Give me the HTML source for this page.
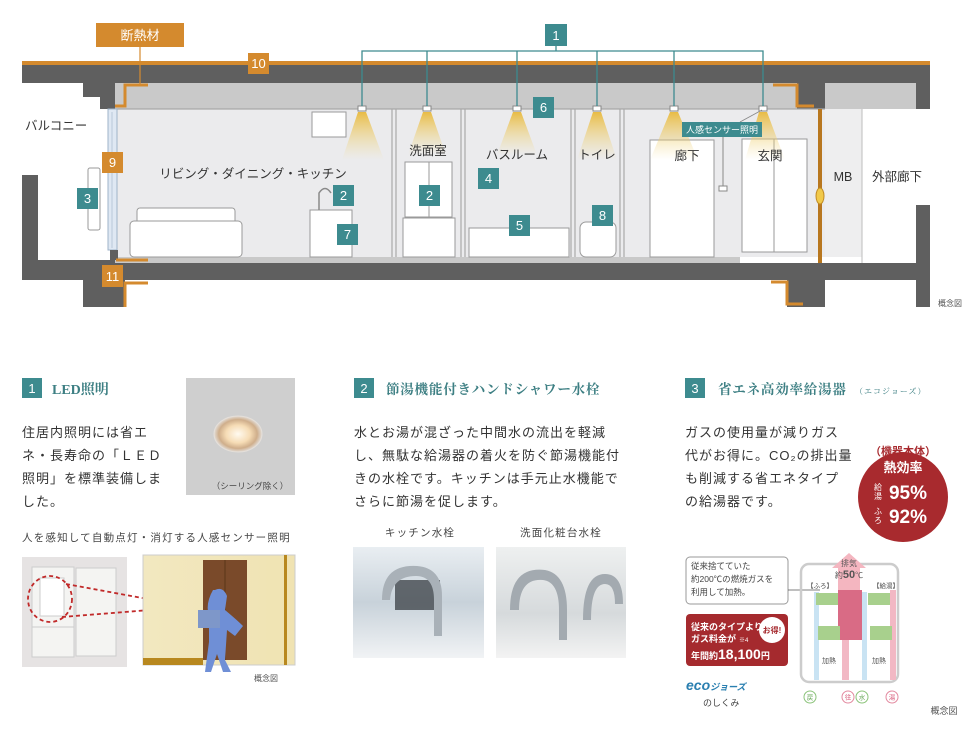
<!DOCTYPE html>
<html><head><meta charset="utf-8"><style>
html,body{margin:0;padding:0;background:#fff;}
svg{display:block;font-family:"Liberation Sans","Noto Sans CJK JP",sans-serif;}
.s{font-family:"Liberation Serif","Noto Serif CJK SC",serif;}
</style></head><body>
<svg width="980" height="735" viewBox="0 0 980 735" xmlns="http://www.w3.org/2000/svg">
<defs>
<linearGradient id="cone" x1="0" y1="0" x2="0" y2="1"><stop offset="0" stop-color="#e8b93c" stop-opacity="0.95"/><stop offset="1" stop-color="#f3dc8f" stop-opacity="0"/></linearGradient>
<radialGradient id="led" cx="0.5" cy="0.5" r="0.5"><stop offset="0" stop-color="#fffaf0"/><stop offset="0.5" stop-color="#f6dcb5"/><stop offset="0.8" stop-color="#cfae8b"/><stop offset="1" stop-color="#e2dcd6"/></radialGradient>
<linearGradient id="room" x1="0" y1="0" x2="1" y2="0"><stop offset="0" stop-color="#f2e8c0"/><stop offset="1" stop-color="#f0e3b2"/></linearGradient>
<linearGradient id="ph1" x1="0" y1="0" x2="0" y2="1"><stop offset="0" stop-color="#e9eef2"/><stop offset="0.5" stop-color="#c8d2da"/><stop offset="1" stop-color="#f1f3f5"/></linearGradient>
<linearGradient id="ph2" x1="0" y1="0" x2="0" y2="1"><stop offset="0" stop-color="#eef0f0"/><stop offset="0.6" stop-color="#d6dadc"/><stop offset="1" stop-color="#f3f3f3"/></linearGradient>
</defs>

<rect x="115" y="109" width="710" height="148" fill="#ebebed"/>
<rect x="825" y="109" width="37" height="148" fill="#eeeeef"/>
<line x1="862" y1="109" x2="862" y2="263" stroke="#bdbdbd"/>
<rect x="22" y="61" width="908" height="4" fill="#d48a2e"/>
<rect x="22" y="65" width="908" height="18" fill="#5f5f5f"/>
<rect x="115" y="83" width="685" height="26" fill="#c9c9c9"/>
<rect x="825" y="83" width="91" height="26" fill="#c9c9c9"/>
<polygon points="83,83 115,83 115,109 100,109 100,97 83,97" fill="#5f5f5f"/>
<rect x="797" y="83" width="28" height="26" fill="#5f5f5f"/>
<rect x="916" y="83" width="14" height="26" fill="#5f5f5f"/>
<polyline points="148,85 125,85 125,106 115,106" fill="none" stroke="#d48a2e" stroke-width="3"/>
<polyline points="773,85 797,85 797,106 814,106" fill="none" stroke="#d48a2e" stroke-width="3"/>
<line x1="140" y1="46" x2="140" y2="84" stroke="#d48a2e" stroke-width="1.2"/>
<g stroke="#a9a9a9" stroke-width="1.2" fill="none">
<line x1="115" y1="109" x2="825" y2="109"/>
<line x1="392" y1="109" x2="392" y2="257"/><line x1="396" y1="109" x2="396" y2="257"/>
<line x1="461" y1="109" x2="461" y2="257"/><line x1="465" y1="109" x2="465" y2="257"/>
<line x1="571" y1="109" x2="571" y2="257"/><line x1="575" y1="109" x2="575" y2="257"/>
<line x1="620" y1="109" x2="620" y2="257"/><line x1="624" y1="109" x2="624" y2="257"/>
</g>
<rect x="108" y="109" width="9" height="141" fill="#dfe8f3" stroke="#9fb3c8"/>
<line x1="112" y1="112" x2="112" y2="248" stroke="#b9c9da"/>
<rect x="115" y="257" width="625" height="6" fill="#c9c9c9"/>
<rect x="22" y="260" width="93" height="20" fill="#5f5f5f"/>
<rect x="115" y="263" width="815" height="17" fill="#5f5f5f"/>
<rect x="22" y="175" width="16" height="105" fill="#5f5f5f"/>
<rect x="83" y="280" width="42" height="27" fill="#5f5f5f"/>
<rect x="787" y="280" width="38" height="27" fill="#5f5f5f"/>
<rect x="916" y="205" width="14" height="102" fill="#5f5f5f"/>
<rect x="110" y="250" width="8" height="10" fill="#5f5f5f"/>
<polyline points="148,283 125,283 125,307" fill="none" stroke="#d48a2e" stroke-width="3"/>
<polyline points="116,260 148,260" fill="none" stroke="#d48a2e" stroke-width="3"/>
<polyline points="771,282 787,282 787,304 803,304" fill="none" stroke="#d48a2e" stroke-width="3"/>
<rect x="818" y="109" width="4" height="154" fill="#b8771f"/>
<ellipse cx="820" cy="196" rx="4" ry="8" fill="#f1c94a" stroke="#c08a22"/>
<g fill="#fff" stroke="#9a9a9a" stroke-width="1">
<rect x="137" y="208" width="98" height="23" rx="3"/>
<rect x="130" y="221" width="112" height="36" rx="4"/>
<rect x="310" y="210" width="42" height="47"/>
<rect x="312" y="112" width="34" height="25"/>
<rect x="405" y="162" width="47" height="55"/>
<rect x="403" y="218" width="52" height="39"/>
<rect x="469" y="228" width="100" height="29"/>
<rect x="650" y="140" width="64" height="117"/>
<rect x="742" y="139" width="65" height="113"/>
<rect x="580" y="222" width="36" height="35" rx="6"/>
<rect x="88" y="168" width="12" height="62" rx="2"/>
</g>
<line x1="429" y1="162" x2="429" y2="217" stroke="#9a9a9a"/>
<line x1="774" y1="139" x2="774" y2="252" stroke="#9a9a9a"/>
<path d="M319 210 V193 Q325 184 331 193" fill="none" stroke="#8a8a8a" stroke-width="1.5"/>
<g fill="url(#cone)">
<polygon points="358,112 366,112 384,160 342,160"/>
<polygon points="423,112 431,112 446,155 408,155"/>
<polygon points="513,112 521,112 537,155 497,155"/>
<polygon points="593,112 601,112 617,160 577,160"/>
<polygon points="670,112 678,112 698,160 650,160"/>
<polygon points="759,112 767,112 785,160 745,160"/>
</g>
<g fill="#fff" stroke="#888">
<rect x="358" y="106" width="8" height="5"/><rect x="423" y="106" width="8" height="5"/><rect x="513" y="106" width="8" height="5"/><rect x="593" y="106" width="8" height="5"/><rect x="670" y="106" width="8" height="5"/><rect x="759" y="106" width="8" height="5"/>
</g>
<g stroke="#3d8b8f" stroke-width="1.3" fill="none">
<polyline points="362,106 362,51 763,51 763,106"/>
<line x1="427" y1="51" x2="427" y2="106"/><line x1="517" y1="51" x2="517" y2="106"/><line x1="597" y1="51" x2="597" y2="106"/><line x1="674" y1="51" x2="674" y2="106"/><line x1="556" y1="46" x2="556" y2="51"/>
</g>
<line x1="723" y1="137" x2="723" y2="186" stroke="#888"/>
<rect x="719" y="186" width="8" height="5" fill="#fff" stroke="#888"/>
<line x1="740" y1="122" x2="762" y2="110" stroke="#888" stroke-width="0.8"/>
<rect x="682" y="122" width="80" height="15" fill="#3d8b8f"/>
<text x="722" y="133" font-size="9" fill="#fff" text-anchor="middle">人感センサー照明</text>

<rect x="96" y="23" width="88" height="24" fill="#d48a2e"/>
<text x="140" y="40" font-size="13" fill="#fff" text-anchor="middle">断熱材</text>
<g font-size="13" fill="#fff" text-anchor="middle">
<rect x="248" y="53" width="21" height="21" fill="#d48a2e"/><text x="258.5" y="68">10</text>
<rect x="102" y="152" width="21" height="21" fill="#d48a2e"/><text x="112.5" y="167">9</text>
<rect x="102" y="265" width="21" height="22" fill="#d48a2e"/><text x="112.5" y="281">11</text>
</g>
<g font-size="13" fill="#fff" text-anchor="middle">
<rect x="545" y="24" width="22" height="22" fill="#3d8b8f"/><text x="556" y="40">1</text>
<rect x="533" y="97" width="21" height="21" fill="#3d8b8f"/><text x="543.5" y="112">6</text>
<rect x="333" y="185" width="21" height="21" fill="#3d8b8f"/><text x="343.5" y="200">2</text>
<rect x="419" y="185" width="21" height="21" fill="#3d8b8f"/><text x="429.5" y="200">2</text>
<rect x="77" y="188" width="21" height="21" fill="#3d8b8f"/><text x="87.5" y="203">3</text>
<rect x="478" y="168" width="21" height="21" fill="#3d8b8f"/><text x="488.5" y="183">4</text>
<rect x="509" y="215" width="21" height="21" fill="#3d8b8f"/><text x="519.5" y="230">5</text>
<rect x="337" y="224" width="21" height="21" fill="#3d8b8f"/><text x="347.5" y="239">7</text>
<rect x="592" y="205" width="21" height="21" fill="#3d8b8f"/><text x="602.5" y="220">8</text>
</g>
<g font-size="12.5" fill="#333">
<text x="25" y="130">バルコニー</text>
<text x="253" y="178" text-anchor="middle">リビング・ダイニング・キッチン</text>
<text x="428" y="155" text-anchor="middle">洗面室</text>
<text x="517" y="159" text-anchor="middle">バスルーム</text>
<text x="597" y="159" text-anchor="middle">トイレ</text>
<text x="687" y="160" text-anchor="middle">廊下</text>
<text x="770" y="160" text-anchor="middle">玄関</text>
<text x="843" y="181" text-anchor="middle">MB</text>
<text x="897" y="181" text-anchor="middle">外部廊下</text>
</g>
<text x="950" y="306" font-size="8" fill="#555" text-anchor="middle">概念図</text>

<rect x="22" y="378" width="20" height="20" fill="#3d8b8f"/>
<text x="32" y="393" font-size="13" fill="#fff" text-anchor="middle">1</text>
<text x="52" y="394" class="s" font-size="14" font-weight="bold" fill="#3d7f83">LED照明</text>
<g font-size="13" fill="#333" letter-spacing="1">
<text x="22" y="437">住居内照明には省エ</text>
<text x="22" y="460">ネ・長寿命の「ＬＥＤ</text>
<text x="22" y="483">照明」を標準装備しま</text>
<text x="22" y="506">した。</text>
</g>
<rect x="186" y="378" width="109" height="117" fill="#cfcfcf"/>
<ellipse cx="238" cy="434" rx="24" ry="18" fill="url(#led)" stroke="#e4dfda"/>
<text x="250" y="489" font-size="8.5" fill="#444" text-anchor="middle">（シーリング除く）</text>
<text x="22" y="541" font-size="10.5" fill="#444" letter-spacing="1.2">人を感知して自動点灯・消灯する人感センサー照明</text>
<rect x="22" y="557" width="105" height="110" fill="#e6e3e3"/>
<rect x="32" y="567" width="42" height="60" fill="#f4f4f2" stroke="#ccc"/>
<rect x="76" y="568" width="40" height="88" fill="#f4f4f2" stroke="#ccc"/>
<rect x="32" y="627" width="42" height="30" fill="#f4f4f2" stroke="#ccc"/>
<rect x="40" y="578" width="24" height="38" fill="#fff" stroke="#ccc"/>
<ellipse cx="50" cy="599" rx="22" ry="23" fill="none" stroke="#c12a2a" stroke-width="1.8" stroke-dasharray="4,3"/>
<line x1="66" y1="584" x2="175" y2="604" stroke="#c12a2a" stroke-width="1.8" stroke-dasharray="4,3"/>
<line x1="62" y1="617" x2="175" y2="608" stroke="#c12a2a" stroke-width="1.8" stroke-dasharray="4,3"/>
<rect x="143" y="555" width="152" height="110" fill="url(#room)" stroke="#ccc"/>
<rect x="203" y="560" width="44" height="100" fill="#7a4a2a"/>
<line x1="225" y1="560" x2="225" y2="660" stroke="#5b3518"/>
<rect x="143" y="658" width="60" height="7" fill="#b8881f"/>
<rect x="284" y="555" width="3" height="110" fill="#b8881f"/>
<path d="M215 590 q8 -4 12 6 l-2 14 q12 10 18 16 l-8 10 l-8 -6 l-2 30 l6 12 h-8 l-6 -18 l-6 18 h-6 l4 -30 v-26 q-4 -12 4 -26z" fill="#6f8fd6"/>
<rect x="198" y="610" width="22" height="18" fill="#7e97c9"/>
<text x="266" y="681" font-size="8" fill="#555" text-anchor="middle">概念図</text>

<rect x="354" y="378" width="20" height="20" fill="#3d8b8f"/>
<text x="364" y="393" font-size="13" fill="#fff" text-anchor="middle">2</text>
<text x="386" y="394" class="s" font-size="13.5" font-weight="bold" fill="#3d7f83" letter-spacing="0.8">節湯機能付きハンドシャワー水栓</text>
<g font-size="13" fill="#333" letter-spacing="1">
<text x="354" y="437">水とお湯が混ざった中間水の流出を軽減</text>
<text x="354" y="460">し、無駄な給湯器の着火を防ぐ節湯機能付</text>
<text x="354" y="483">きの水栓です。キッチンは手元止水機能で</text>
<text x="354" y="506">さらに節湯を促します。</text>
</g>
<g font-size="10.5" fill="#444" text-anchor="middle" letter-spacing="1.2">
<text x="420" y="536">キッチン水栓</text>
<text x="561" y="536">洗面化粧台水栓</text>
</g>
<rect x="353" y="547" width="131" height="111" fill="url(#ph1)"/>
<rect x="395" y="580" width="45" height="30" fill="#3a3f44" opacity="0.75"/>
<path d="M382 600 q0 -36 35 -34 q25 2 25 30 v40 h-8 v-36 q0 -24 -18 -24 q-24 0 -26 24z" fill="#a9b1b8"/>
<rect x="496" y="547" width="130" height="111" fill="url(#ph2)"/>
<path d="M510 610 q0 -44 35 -40 q22 4 22 40 v30 h-8 v-30 q0 -28 -16 -30 q-24 -2 -24 30z" fill="#a3aab0"/>
<path d="M583 620 q0 -46 22 -46 q18 0 18 30 h-8 q0 -20 -10 -20 q-14 0 -14 36z" fill="#a3aab0"/>

<rect x="685" y="378" width="20" height="20" fill="#3d8b8f"/>
<text x="695" y="393" font-size="13" fill="#fff" text-anchor="middle">3</text>
<text x="718" y="394" class="s" font-size="13.5" font-weight="bold" fill="#3d7f83" letter-spacing="0.8">省エネ高効率給湯器</text>
<text x="855" y="394" class="s" font-size="8" fill="#3d7f83" letter-spacing="1">（エコジョーズ）</text>
<g font-size="13" fill="#333" letter-spacing="1">
<text x="685" y="437">ガスの使用量が減りガス</text>
<text x="685" y="460">代がお得に。CO₂の排出量</text>
<text x="685" y="483">も削減する省エネタイプ</text>
<text x="685" y="506">の給湯器です。</text>
</g>
<circle cx="903" cy="497" r="45" fill="#a82a2e"/>
<text x="903" y="455" font-size="11" fill="#a82a2e" text-anchor="middle" font-weight="bold">（機器本体）</text>
<text x="903" y="472" font-size="13" fill="#fff" text-anchor="middle" font-weight="bold">熱効率</text>
<text x="878" y="490" font-size="8" fill="#fff" text-anchor="middle">給</text><text x="878" y="499" font-size="8" fill="#fff" text-anchor="middle">湯</text>
<text x="908" y="499" font-size="19" fill="#fff" text-anchor="middle" font-weight="bold">95%</text>
<text x="878" y="514" font-size="8" fill="#fff" text-anchor="middle">ふ</text><text x="878" y="523" font-size="8" fill="#fff" text-anchor="middle">ろ</text>
<text x="908" y="523" font-size="19" fill="#fff" text-anchor="middle" font-weight="bold">92%</text>

<rect x="686" y="557" width="102" height="47" rx="4" fill="#fff" stroke="#999"/>
<g font-size="8.5" fill="#444"><text x="691" y="569">従来捨てていた</text><text x="691" y="582">約200℃の燃焼ガスを</text><text x="691" y="595">利用して加熱。</text></g>
<line x1="788" y1="590" x2="820" y2="590" stroke="#555" stroke-width="0.7"/>
<rect x="686" y="614" width="102" height="52" rx="4" fill="#a52a2e"/>
<g font-size="9" fill="#fff" font-weight="bold"><text x="691" y="630">従来のタイプより</text><text x="691" y="642">ガス料金が</text><text x="739" y="642" font-size="6" font-weight="normal">※4</text><text x="691" y="659" font-size="9">年間約<tspan font-size="14">18,100</tspan>円</text></g>
<circle cx="772" cy="630" r="13" fill="#fff"/>
<text x="772" y="633" font-size="8" fill="#a52a2e" text-anchor="middle" font-weight="bold">お得!</text>
<text x="686" y="690" font-size="14" fill="#2a7fb0" font-weight="bold" font-style="italic">eco<tspan font-size="9">ジョーズ</tspan></text>
<text x="703" y="706" font-size="9" fill="#444">のしくみ</text>

<rect x="801" y="564" width="97" height="118" rx="8" fill="none" stroke="#ccc" stroke-width="2.5"/>
<polygon points="849,553 866,568 860,568 860,620 838,620 838,568 832,568" fill="#f4b6c0"/>
<rect x="838" y="590" width="24" height="50" fill="#d96b85"/>
<text x="849" y="566" font-size="8" fill="#555" text-anchor="middle">排気</text>
<text x="849" y="578" font-size="8" fill="#555" text-anchor="middle">約<tspan font-weight="bold" font-size="11">50</tspan>℃</text>
<text x="807" y="588" font-size="6.5" fill="#444">【ふろ】</text>
<text x="873" y="588" font-size="6.5" fill="#444">【給湯】</text>
<rect x="814" y="592" width="5" height="88" fill="#c9e3f3"/>
<rect x="862" y="592" width="5" height="88" fill="#c9e3f3"/>
<rect x="842" y="640" width="7" height="40" fill="#f2b8c4"/>
<rect x="890" y="590" width="6" height="90" fill="#f2b8c4"/>
<rect x="816" y="593" width="22" height="12" fill="#a8d08d"/>
<rect x="868" y="593" width="22" height="12" fill="#a8d08d"/>
<rect x="818" y="626" width="22" height="14" fill="#a8d08d"/>
<rect x="870" y="626" width="22" height="14" fill="#a8d08d"/>
<text x="829" y="663" font-size="7" fill="#555" text-anchor="middle">加熱</text>
<text x="879" y="663" font-size="7" fill="#555" text-anchor="middle">加熱</text>
<g font-size="6.5" text-anchor="middle" fill="#fff">
<circle cx="810" cy="697" r="6" fill="#fff" stroke="#8bc37a"/><text x="810" y="699.5" fill="#6aa85a">戻</text>
<circle cx="848" cy="697" r="6" fill="#fff" stroke="#e38aa0"/><text x="848" y="699.5" fill="#d9607e">往</text>
<circle cx="862" cy="697" r="6" fill="#fff" stroke="#8bc37a"/><text x="862" y="699.5" fill="#6aa85a">水</text>
<circle cx="892" cy="697" r="6" fill="#fff" stroke="#e38aa0"/><text x="892" y="699.5" fill="#d9607e">湯</text>
</g>
<text x="944" y="714" font-size="9" fill="#555" text-anchor="middle">概念図</text>
</svg>
</body></html>
